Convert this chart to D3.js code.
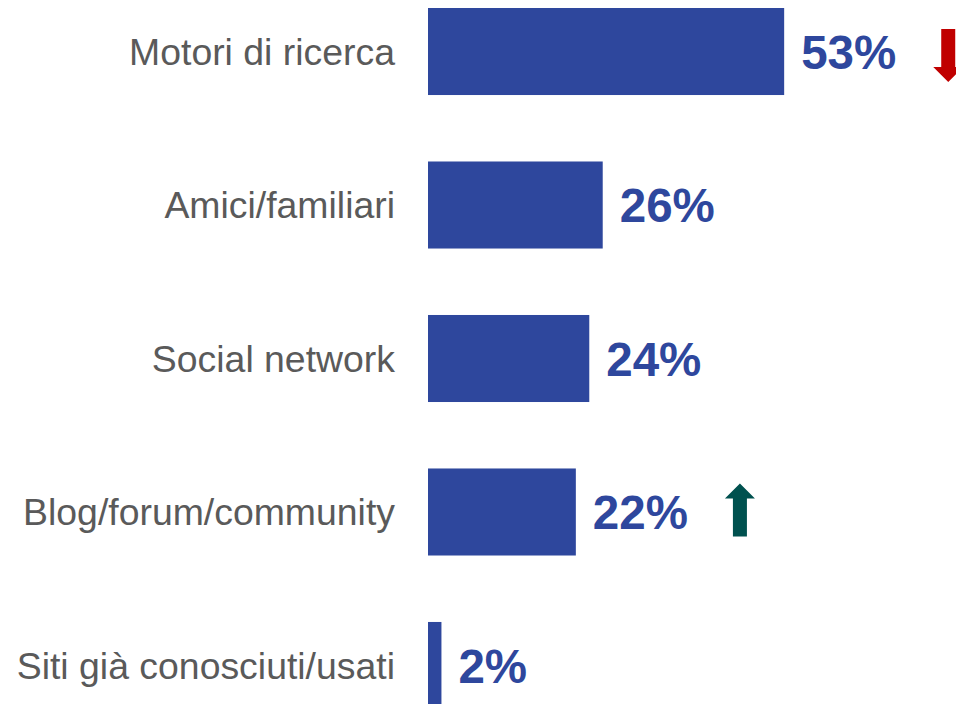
<!DOCTYPE html>
<html><head><meta charset="utf-8">
<script src="https://cdn.jsdelivr.net/npm/d3@7"></script>
<style>body{margin:0;background:#fff}svg{display:block}</style>
</head><body><svg id="c" width="956" height="704"></svg>
<script>
const categories = ["Motori di ricerca","Amici/familiari","Social network","Blog/forum/community","Siti già conosciuti/usati"];
const values = [53, 26, 24, 22, 2];
const trends = ["down", null, null, "up", null];

const svg = d3.select("#c");
const y = d3.scaleBand().domain(categories).range([8, 709]).paddingInner(0.433).paddingOuter(0);
const x = d3.scaleLinear().domain([0, 100]).range([428, 428 + 672]);
const barColor = "#2E479D";

svg.selectAll("rect.bar").data(categories).join("rect")
  .attr("x", x(0)).attr("y", d => y(d))
  .attr("width", (d,i) => x(values[i]) - x(0))
  .attr("height", y.bandwidth())
  .attr("fill", barColor);

svg.selectAll("text.cat").data(categories).join("text")
  .attr("x", 395).attr("y", d => y(d) + y.bandwidth()/2)
  .attr("dy", "0.35em").attr("text-anchor", "end")
  .attr("font-family", "Liberation Sans, Arial, sans-serif")
  .attr("font-size", 37.4).attr("fill", "#5A5A5A")
  .text(d => d);

const vals = svg.selectAll("text.val").data(categories).join("text")
  .attr("x", (d,i) => x(values[i]) + 17).attr("y", d => y(d) + y.bandwidth()/2)
  .attr("dy", "0.36em")
  .attr("font-family", "Liberation Sans, Arial, sans-serif")
  .attr("font-weight", "bold")
  .attr("font-size", 47.5).attr("fill", "#2E479D")
  .text((d,i) => values[i] + "%");

vals.each(function(d,i){
  const t = trends[i];
  if (!t) return;
  const cx = x(values[i]) + 17 + this.getComputedTextLength() + 52;
  const cy = y(d) + y.bandwidth()/2 + (t === "down" ? 4 : -2);
  const sh = 7, hh = 15, len = 53, head = 15;
  let pts;
  const top = cy - len/2, bot = cy + len/2;
  if (t === "up") {
    pts = [[cx, top],[cx+hh, top+head],[cx+sh, top+head],[cx+sh, bot],[cx-sh, bot],[cx-sh, top+head],[cx-hh, top+head]];
  } else {
    pts = [[cx, bot],[cx+hh, bot-head],[cx+sh, bot-head],[cx+sh, top],[cx-sh, top],[cx-sh, bot-head],[cx-hh, bot-head]];
  }
  svg.append("polygon").attr("points", pts.map(p => p.join(",")).join(" "))
    .attr("fill", t === "up" ? "#00514F" : "#C00000");
});
</script></body></html>
